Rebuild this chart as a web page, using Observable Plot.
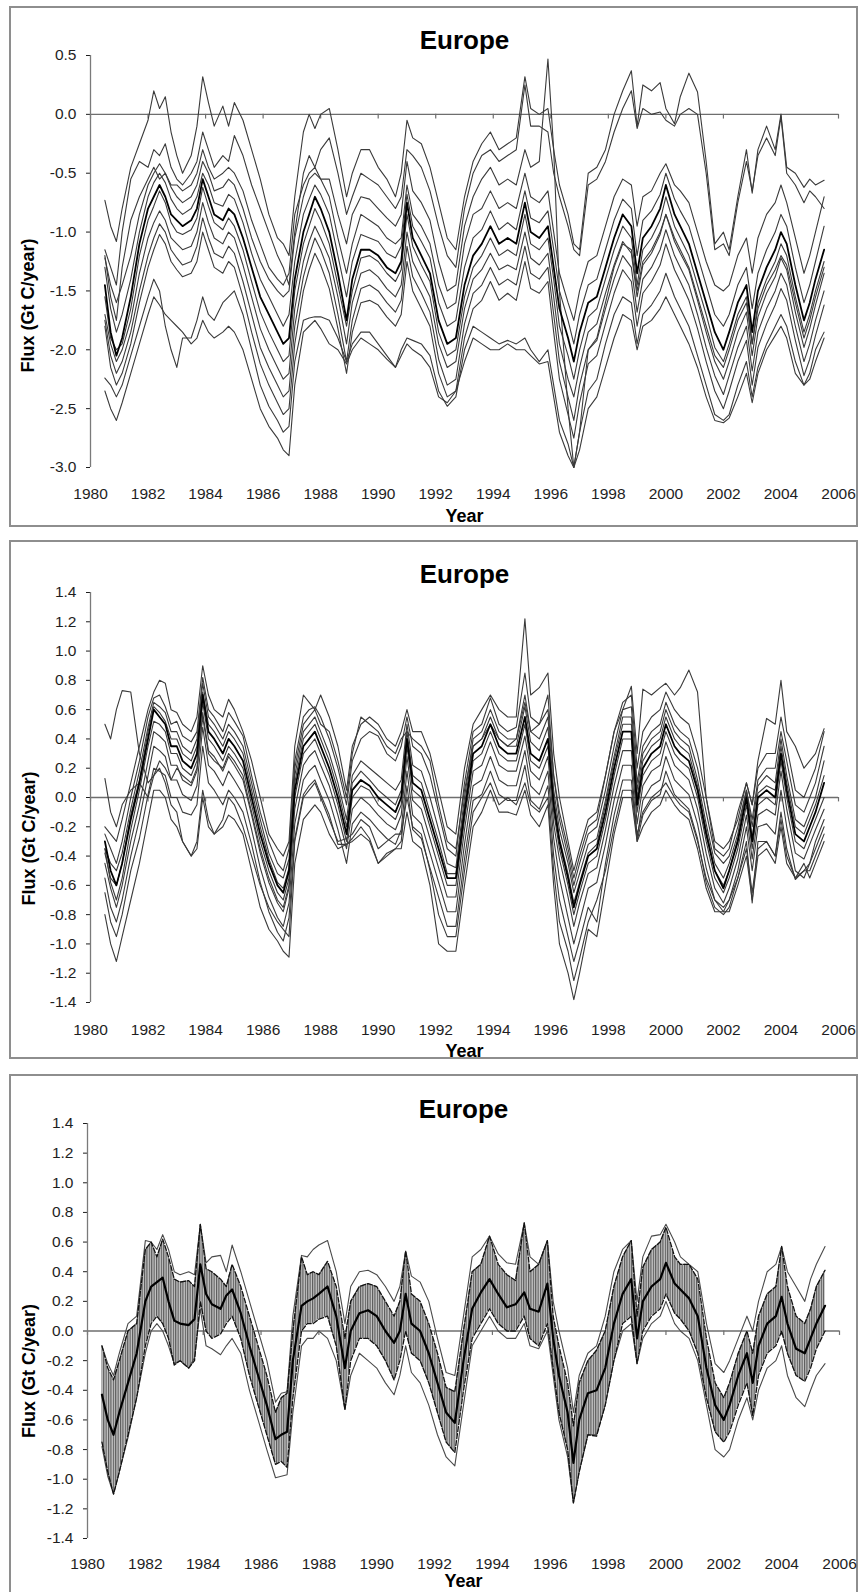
<!DOCTYPE html>
<html><head><meta charset="utf-8">
<script src="https://cdn.jsdelivr.net/npm/d3@7"></script>
<script src="https://cdn.jsdelivr.net/npm/@observablehq/plot@0.6"></script>
<style>
html,body{margin:0;padding:0;background:#fff;overflow:hidden}
#page{position:relative;width:860px;height:1592px;overflow:hidden;background:#fff;font-family:"Liberation Sans",Arial,sans-serif}
.box{position:absolute;border:2px solid #8e8e8e;box-sizing:border-box}
.chart{position:absolute;left:0}
</style></head><body><div id="page">
<div class="box" style="left:9px;top:6px;width:849px;height:521px"></div>
<div class="box" style="left:9px;top:540px;width:849px;height:519px"></div>
<div class="box" style="left:9px;top:1074px;width:849px;height:560px"></div>
<div class="chart" id="c1" style="top:0px"></div>
<div class="chart" id="c2" style="top:530px"></div>
<div class="chart" id="c3" style="top:1062px"></div>
</div>
<script>
// ---------- shared axes / labels ----------
const months = [1980.5,1980.7,1980.9,1981.1,1981.4,1981.7,1982.0,1982.2,1982.4,1982.6,1982.8,1983.0,1983.2,1983.5,1983.7,1983.9,1984.1,1984.3,1984.6,1984.8,1985.0,1985.3,1985.6,1985.9,1986.2,1986.5,1986.7,1986.9,1987.1,1987.4,1987.6,1987.8,1988.0,1988.3,1988.6,1988.9,1989.1,1989.4,1989.7,1990.0,1990.3,1990.6,1990.8,1991.0,1991.2,1991.5,1991.8,1992.1,1992.4,1992.7,1993.0,1993.3,1993.6,1993.9,1994.2,1994.5,1994.8,1995.1,1995.3,1995.6,1995.9,1996.1,1996.3,1996.6,1996.8,1997.0,1997.3,1997.6,1997.9,1998.2,1998.5,1998.8,1999.0,1999.2,1999.5,1999.8,2000.0,2000.3,2000.5,2000.8,2001.1,2001.4,2001.7,2002.0,2002.2,2002.5,2002.8,2003.0,2003.2,2003.5,2003.8,2004.0,2004.2,2004.5,2004.8,2005.0,2005.2,2005.5];
const xTicks = [1980,1982,1984,1986,1988,1990,1992,1994,1996,1998,2000,2002,2004,2006];
const yTicks1 = [-3.0,-2.5,-2.0,-1.5,-1.0,-0.5,0.0,0.5];
const yTicks23 = [-1.4,-1.2,-1.0,-0.8,-0.6,-0.4,-0.2,0.0,0.2,0.4,0.6,0.8,1.0,1.2,1.4];
const titleText = "Europe";
const xLabel = "Year";
const yLabel = "Flux (Gt C/year)";

// ---------- panel 1 series ----------
const p1Top1 = [-0.73,-0.95,-1.08,-0.8,-0.45,-0.25,-0.05,0.2,0.05,0.15,
 -0.15,-0.35,-0.5,-0.35,-0.1,0.32,0.1,-0.1,0.07,-0.1,
 0.1,-0.05,-0.3,-0.55,-0.85,-1.05,-1.1,-1.2,-0.7,-0.15,
 0.0,-0.12,0.0,0.05,-0.3,-0.7,-0.5,-0.3,-0.3,-0.45,
 -0.55,-0.7,-0.5,-0.05,-0.2,-0.25,-0.45,-0.75,-1.05,-1.15,
 -0.7,-0.4,-0.25,-0.15,-0.3,-0.25,-0.2,0.32,0.05,0.0,
 0.05,-0.3,-0.6,-0.85,-1.1,-1.15,-0.5,-0.45,-0.3,0.0,
 0.2,0.37,-0.1,0.25,0.2,0.27,0.05,-0.08,0.15,0.35,
 0.19,-0.4,-1.1,-1.0,-1.15,-0.7,-0.3,-0.67,-0.3,-0.1,
 -0.3,0.0,-0.45,-0.5,-0.62,-0.55,-0.6,-0.56];
const p1Top2 = [-1.15,-1.3,-1.45,-1.0,-0.55,-0.4,-0.45,-0.3,-0.35,-0.25,
 -0.45,-0.55,-0.6,-0.5,-0.4,-0.15,-0.3,-0.45,-0.35,-0.4,
 -0.18,-0.35,-0.6,-0.8,-1.0,-1.2,-1.3,-1.45,-1.0,-0.5,
 -0.35,-0.45,-0.3,-0.2,-0.5,-0.85,-0.7,-0.5,-0.55,-0.6,
 -0.7,-0.8,-0.7,-0.3,-0.35,-0.45,-0.65,-0.95,-1.2,-1.3,
 -0.8,-0.5,-0.35,-0.3,-0.4,-0.35,-0.3,0.25,-0.1,-0.1,
 -0.15,-0.5,-0.7,-0.95,-1.15,-1.2,-0.6,-0.55,-0.4,-0.15,
 0.05,0.2,-0.12,0.05,0.0,0.02,-0.05,-0.1,0.0,0.05,
 0.0,-0.5,-1.15,-1.1,-1.2,-0.75,-0.4,-0.65,-0.35,-0.2,
 -0.35,-0.02,-0.5,-0.6,-0.75,-0.65,-0.7,-0.8];
const p1Spike = [-1.2,-1.55,-1.75,-1.3,-0.9,-0.7,-0.55,-0.45,-0.55,-0.5,
 -0.6,-0.6,-0.65,-0.6,-0.5,-0.3,-0.45,-0.55,-0.5,-0.45,
 -0.5,-0.65,-0.9,-1.1,-1.3,-1.4,-1.45,-1.35,-0.85,-0.6,
 -0.5,-0.45,-0.55,-0.55,-0.85,-1.1,-0.85,-0.7,-0.72,-0.8,
 -0.88,-0.95,-0.85,-0.4,-0.65,-0.75,-0.9,-1.25,-1.5,-1.45,
 -0.95,-0.7,-0.55,-0.45,-0.6,-0.55,-0.6,-0.3,-0.45,-0.4,
 0.47,-0.3,-1.5,-2.5,-3.0,-2.7,-2.0,-1.9,-1.6,-1.3,
 -1.1,-1.15,-1.5,-1.25,-1.15,-1.0,-0.85,-1.05,-1.15,-1.3,
 -1.55,-1.8,-2.05,-2.15,-2.0,-1.75,-1.6,-1.95,-1.65,-1.45,
 -1.32,-1.2,-1.28,-1.6,-1.9,-1.75,-1.55,-1.3];
const p1Center = [-1.45,-1.85,-2.05,-1.9,-1.55,-1.1,-0.8,-0.7,-0.6,-0.7,
 -0.85,-0.9,-0.95,-0.9,-0.8,-0.55,-0.7,-0.85,-0.9,-0.8,
 -0.85,-1.05,-1.3,-1.55,-1.7,-1.85,-1.95,-1.9,-1.4,-1.0,
 -0.85,-0.7,-0.8,-1.0,-1.35,-1.75,-1.4,-1.15,-1.15,-1.2,
 -1.3,-1.35,-1.25,-0.75,-1.05,-1.2,-1.35,-1.75,-1.95,-1.9,
 -1.45,-1.2,-1.1,-0.95,-1.1,-1.05,-1.1,-0.75,-1.0,-1.05,
 -0.95,-1.3,-1.65,-1.9,-2.1,-1.85,-1.6,-1.55,-1.3,-1.05,
 -0.85,-0.95,-1.35,-1.05,-0.95,-0.8,-0.6,-0.85,-0.95,-1.1,
 -1.35,-1.6,-1.85,-2.0,-1.85,-1.6,-1.45,-1.85,-1.5,-1.3,
 -1.15,-1.0,-1.1,-1.45,-1.75,-1.6,-1.4,-1.15];
const p1B1 = [-1.22,-1.45,-1.6,-1.45,-1.2,-0.85,-0.6,-0.5,-0.42,-0.5,
 -0.62,-0.7,-0.75,-0.7,-0.6,-0.4,-0.5,-0.65,-0.62,-0.55,
 -0.6,-0.8,-1.05,-1.25,-1.4,-1.5,-1.55,-1.5,-1.05,-0.7,
 -0.55,-0.5,-0.55,-0.7,-1.05,-1.35,-1.1,-0.85,-0.9,-0.95,
 -1.05,-1.1,-1.05,-0.6,-0.85,-0.95,-1.1,-1.45,-1.65,-1.6,
 -1.1,-0.85,-0.8,-0.65,-0.8,-0.75,-0.8,-0.5,-0.7,-0.75,
 -0.65,-1.0,-1.35,-1.6,-1.75,-1.5,-1.25,-1.2,-0.95,-0.7,
 -0.55,-0.6,-0.95,-0.7,-0.65,-0.5,-0.42,-0.6,-0.65,-0.75,
 -1.0,-1.25,-1.45,-1.5,-1.45,-1.2,-1.05,-1.35,-1.05,-0.85,
 -0.75,-0.6,-0.75,-1.05,-1.35,-1.2,-1.0,-0.7];
const p1B2 = [-1.3,-1.65,-1.85,-1.7,-1.4,-1.0,-0.7,-0.58,-0.5,-0.58,
 -0.72,-0.8,-0.85,-0.8,-0.7,-0.5,-0.6,-0.75,-0.78,-0.68,
 -0.72,-0.92,-1.18,-1.4,-1.55,-1.7,-1.8,-1.7,-1.25,-0.85,
 -0.72,-0.6,-0.68,-0.85,-1.2,-1.55,-1.25,-1.02,-1.05,-1.08,
 -1.18,-1.22,-1.12,-0.68,-0.95,-1.08,-1.22,-1.6,-1.8,-1.75,
 -1.3,-1.05,-0.98,-0.82,-0.98,-0.92,-0.98,-0.65,-0.88,-0.92,
 -0.82,-1.15,-1.5,-1.75,-1.95,-1.7,-1.45,-1.4,-1.15,-0.9,
 -0.72,-0.8,-1.2,-0.9,-0.82,-0.68,-0.5,-0.72,-0.82,-0.95,
 -1.2,-1.45,-1.7,-1.8,-1.7,-1.45,-1.3,-1.65,-1.35,-1.15,
 -1.0,-0.85,-0.95,-1.3,-1.6,-1.45,-1.25,-0.95];
const p1B4 = [-1.55,-1.9,-2.0,-1.95,-1.65,-1.2,-0.9,-0.78,-0.65,-0.75,
 -0.92,-1.0,-1.02,-0.98,-0.88,-0.62,-0.78,-0.92,-0.98,-0.88,
 -0.95,-1.15,-1.42,-1.68,-1.85,-2.0,-2.1,-2.05,-1.5,-1.1,
 -0.95,-0.8,-0.9,-1.1,-1.45,-1.8,-1.5,-1.22,-1.2,-1.25,
 -1.35,-1.42,-1.32,-0.85,-1.12,-1.28,-1.42,-1.85,-2.05,-2.0,
 -1.55,-1.3,-1.2,-1.05,-1.2,-1.15,-1.2,-0.85,-1.1,-1.15,
 -1.05,-1.4,-1.8,-2.05,-2.25,-2.0,-1.72,-1.65,-1.4,-1.15,
 -0.95,-1.05,-1.45,-1.15,-1.05,-0.9,-0.7,-0.95,-1.05,-1.2,
 -1.45,-1.7,-1.98,-2.1,-1.95,-1.7,-1.55,-1.95,-1.6,-1.4,
 -1.25,-1.1,-1.2,-1.55,-1.85,-1.7,-1.5,-1.25];
const p1B5 = [-1.7,-1.95,-2.1,-2.0,-1.75,-1.35,-1.05,-0.92,-0.82,-0.9,
 -1.05,-1.1,-1.15,-1.12,-1.0,-0.75,-0.92,-1.05,-1.1,-1.0,
 -1.05,-1.28,-1.55,-1.82,-2.0,-2.15,-2.25,-2.2,-1.65,-1.25,
 -1.08,-0.95,-1.05,-1.22,-1.55,-1.95,-1.6,-1.35,-1.32,-1.38,
 -1.48,-1.55,-1.45,-1.0,-1.25,-1.4,-1.55,-1.95,-2.15,-2.1,
 -1.65,-1.4,-1.32,-1.18,-1.32,-1.28,-1.32,-1.0,-1.22,-1.28,
 -1.18,-1.55,-1.95,-2.25,-2.4,-2.15,-1.85,-1.78,-1.52,-1.28,
 -1.08,-1.18,-1.55,-1.28,-1.18,-1.02,-0.85,-1.08,-1.18,-1.32,
 -1.58,-1.85,-2.1,-2.25,-2.1,-1.85,-1.68,-2.05,-1.72,-1.52,
 -1.38,-1.22,-1.32,-1.68,-1.98,-1.82,-1.62,-1.35];
const p1B6 = [-1.75,-2.05,-2.2,-2.1,-1.85,-1.5,-1.2,-1.05,-0.93,-1.0,
 -1.15,-1.22,-1.28,-1.25,-1.12,-0.88,-1.05,-1.18,-1.22,-1.12,
 -1.18,-1.42,-1.7,-1.98,-2.15,-2.3,-2.4,-2.35,-1.8,-1.38,
 -1.2,-1.05,-1.15,-1.35,-1.7,-2.1,-1.75,-1.48,-1.45,-1.5,
 -1.6,-1.68,-1.58,-1.12,-1.38,-1.52,-1.68,-2.08,-2.3,-2.25,
 -1.78,-1.52,-1.45,-1.3,-1.45,-1.4,-1.45,-1.12,-1.35,-1.4,
 -1.3,-1.7,-2.1,-2.4,-2.6,-2.3,-2.0,-1.92,-1.65,-1.4,
 -1.2,-1.3,-1.68,-1.4,-1.3,-1.15,-0.98,-1.2,-1.3,-1.45,
 -1.7,-1.98,-2.22,-2.38,-2.22,-1.98,-1.8,-2.18,-1.85,-1.65,
 -1.5,-1.35,-1.45,-1.8,-2.1,-1.95,-1.75,-1.5];
const p1B7 = [-1.8,-2.15,-2.3,-2.2,-1.95,-1.6,-1.3,-1.15,-1.02,-1.1,
 -1.25,-1.32,-1.38,-1.35,-1.25,-1.0,-1.15,-1.3,-1.35,-1.25,
 -1.3,-1.55,-1.85,-2.12,-2.3,-2.45,-2.55,-2.5,-1.95,-1.5,
 -1.32,-1.18,-1.28,-1.48,-1.82,-2.2,-1.85,-1.6,-1.58,-1.62,
 -1.72,-1.8,-1.7,-1.25,-1.5,-1.65,-1.8,-2.2,-2.4,-2.35,
 -1.9,-1.65,-1.58,-1.42,-1.58,-1.52,-1.58,-1.25,-1.48,-1.52,
 -1.42,-1.85,-2.25,-2.55,-2.75,-2.45,-2.12,-2.05,-1.78,-1.52,
 -1.32,-1.42,-1.8,-1.52,-1.42,-1.28,-1.1,-1.32,-1.42,-1.58,
 -1.82,-2.1,-2.35,-2.5,-2.35,-2.1,-1.92,-2.3,-1.98,-1.78,
 -1.62,-1.48,-1.58,-1.92,-2.22,-2.08,-1.88,-1.62];
const p1B8 = [-2.24,-2.3,-2.4,-2.3,-2.05,-1.8,-1.55,-1.4,-1.5,-1.8,
 -2.0,-2.15,-1.9,-1.9,-1.75,-1.55,-1.7,-1.75,-1.6,-1.55,
 -1.5,-1.7,-2.0,-2.3,-2.48,-2.6,-2.7,-2.65,-2.1,-1.75,
 -1.73,-1.72,-1.72,-1.75,-1.9,-2.1,-1.95,-1.85,-1.85,-1.95,
 -2.05,-2.15,-2.0,-1.9,-1.92,-1.95,-2.05,-2.35,-2.48,-2.4,
 -2.0,-1.8,-1.85,-1.9,-1.95,-1.92,-1.95,-1.9,-2.0,-2.1,
 -2.0,-2.3,-2.6,-2.8,-3.0,-2.7,-2.35,-2.25,-1.95,-1.7,
 -1.55,-1.6,-1.95,-1.7,-1.62,-1.5,-1.35,-1.55,-1.65,-1.8,
 -2.05,-2.3,-2.55,-2.6,-2.55,-2.3,-2.1,-2.4,-2.15,-1.95,
 -1.8,-1.7,-1.8,-2.1,-2.3,-2.2,-2.0,-1.85];
const p1B9 = [-2.35,-2.5,-2.6,-2.45,-2.2,-1.95,-1.7,-1.55,-1.62,-1.7,
 -1.75,-1.8,-1.85,-1.95,-1.9,-1.75,-1.85,-1.9,-1.85,-1.8,
 -1.85,-2.0,-2.25,-2.5,-2.65,-2.75,-2.85,-2.9,-2.3,-1.85,
 -1.8,-1.75,-1.82,-1.95,-2.0,-2.12,-2.0,-1.9,-1.95,-2.0,
 -2.08,-2.15,-2.05,-1.95,-2.0,-2.05,-2.15,-2.4,-2.45,-2.35,
 -2.1,-1.9,-1.95,-2.0,-2.0,-1.95,-2.0,-2.0,-2.05,-2.12,
 -2.1,-2.4,-2.7,-2.9,-3.0,-2.85,-2.5,-2.4,-2.15,-1.9,
 -1.7,-1.75,-2.0,-1.8,-1.75,-1.65,-1.55,-1.7,-1.8,-1.95,
 -2.15,-2.4,-2.6,-2.62,-2.58,-2.4,-2.2,-2.45,-2.2,-2.0,
 -1.88,-1.8,-1.9,-2.2,-2.3,-2.25,-2.1,-1.9];

// ---------- panel 2 series ----------
const p2D1 = [-0.2,-0.25,-0.3,-0.15,0.1,0.35,0.6,0.72,0.8,0.78,
 0.6,0.58,0.5,0.45,0.55,0.9,0.7,0.6,0.55,0.67,
 0.6,0.45,0.25,0.0,-0.25,-0.35,-0.4,-0.3,0.35,0.7,
 0.65,0.6,0.7,0.55,0.35,0.05,0.35,0.5,0.55,0.5,
 0.4,0.35,0.45,0.6,0.45,0.45,0.3,0.05,-0.2,-0.25,
 0.2,0.5,0.6,0.7,0.6,0.55,0.55,1.22,0.7,0.75,
 0.85,0.3,0.0,-0.3,-0.5,-0.35,-0.15,-0.1,0.15,0.45,
 0.65,0.7,0.2,0.45,0.55,0.6,0.72,0.6,0.55,0.5,
 0.3,0.0,-0.3,-0.35,-0.3,-0.15,0.1,-0.05,0.2,0.3,
 0.3,0.55,0.35,0.05,0.0,0.1,0.2,0.45];
const p2D2 = [-0.25,-0.35,-0.45,-0.3,0.0,0.25,0.55,0.68,0.7,0.62,
 0.5,0.52,0.42,0.38,0.45,0.82,0.6,0.55,0.45,0.58,
 0.52,0.42,0.15,-0.1,-0.3,-0.45,-0.5,-0.35,0.25,0.55,
 0.6,0.62,0.55,0.4,0.2,-0.05,0.25,0.4,0.45,0.42,
 0.3,0.25,0.35,0.55,0.35,0.3,0.15,-0.1,-0.35,-0.4,
 0.1,0.45,0.5,0.68,0.5,0.45,0.48,0.85,0.55,0.5,
 0.7,0.15,-0.15,-0.4,-0.6,-0.45,-0.25,-0.2,0.05,0.35,
 0.6,0.62,0.1,0.35,0.45,0.5,0.65,0.5,0.45,0.4,
 0.2,-0.1,-0.38,-0.45,-0.4,-0.2,0.05,-0.15,0.12,0.2,
 0.2,0.45,0.25,-0.05,-0.1,0.0,0.1,0.35];
const p2D3 = [-0.35,-0.45,-0.5,-0.38,-0.08,0.18,0.48,0.65,0.62,0.58,
 0.45,0.45,0.35,0.3,0.4,0.78,0.55,0.5,0.4,0.5,
 0.45,0.35,0.1,-0.15,-0.38,-0.52,-0.55,-0.42,0.15,0.45,
 0.5,0.55,0.45,0.3,0.1,-0.15,0.15,0.25,0.2,0.15,
 0.1,0.05,0.12,0.5,0.22,0.18,0.0,-0.22,-0.45,-0.48,
 0.0,0.4,0.45,0.6,0.45,0.4,0.4,0.7,0.45,0.4,
 0.55,0.05,-0.22,-0.45,-0.65,-0.52,-0.32,-0.28,-0.02,0.28,
 0.55,0.55,0.05,0.3,0.4,0.45,0.6,0.45,0.4,0.35,
 0.12,-0.18,-0.45,-0.55,-0.45,-0.25,0.05,-0.2,0.08,0.15,
 0.1,0.4,0.15,-0.15,-0.2,-0.1,0.0,0.25];
const p2D4 = [-0.38,-0.55,-0.6,-0.45,-0.12,0.12,0.45,0.62,0.58,0.52,
 0.4,0.4,0.3,0.25,0.35,0.72,0.5,0.45,0.35,0.45,
 0.4,0.3,0.05,-0.2,-0.42,-0.58,-0.62,-0.48,0.1,0.4,
 0.45,0.5,0.4,0.25,0.05,-0.2,0.1,0.18,0.12,0.05,
 0.0,-0.05,0.05,0.45,0.15,0.1,-0.1,-0.3,-0.52,-0.52,
 -0.05,0.35,0.4,0.55,0.4,0.35,0.35,0.62,0.38,0.32,
 0.48,0.0,-0.28,-0.52,-0.72,-0.58,-0.38,-0.32,-0.05,0.25,
 0.5,0.5,0.0,0.25,0.35,0.4,0.55,0.4,0.35,0.3,
 0.08,-0.22,-0.5,-0.6,-0.5,-0.28,0.02,-0.28,0.03,0.08,
 0.05,0.35,0.1,-0.2,-0.25,-0.15,-0.05,0.15];
const p2Center = [-0.3,-0.5,-0.6,-0.45,-0.15,0.1,0.4,0.6,0.55,0.5,
 0.35,0.35,0.25,0.2,0.3,0.7,0.45,0.4,0.3,0.4,
 0.35,0.25,0.0,-0.25,-0.45,-0.6,-0.65,-0.5,0.05,0.35,
 0.4,0.45,0.35,0.2,0.0,-0.25,0.05,0.12,0.08,0.0,
 -0.05,-0.1,0.0,0.4,0.1,0.05,-0.15,-0.35,-0.55,-0.55,
 -0.1,0.3,0.35,0.5,0.35,0.3,0.3,0.55,0.3,0.25,
 0.4,-0.05,-0.3,-0.55,-0.75,-0.6,-0.4,-0.35,-0.1,0.2,
 0.45,0.45,-0.05,0.2,0.3,0.35,0.5,0.35,0.3,0.25,
 0.05,-0.25,-0.5,-0.62,-0.5,-0.3,0.0,-0.3,0.0,0.05,
 0.0,0.3,0.05,-0.25,-0.3,-0.2,-0.1,0.1];
const p2D6 = [-0.35,-0.58,-0.7,-0.55,-0.22,0.05,0.35,0.52,0.5,0.45,
 0.3,0.3,0.2,0.15,0.25,0.65,0.4,0.35,0.25,0.35,
 0.3,0.2,-0.05,-0.3,-0.5,-0.65,-0.7,-0.55,0.0,0.3,
 0.35,0.4,0.3,0.15,-0.05,-0.3,0.0,0.08,0.05,-0.05,
 -0.1,-0.15,-0.05,0.35,0.05,0.0,-0.2,-0.4,-0.6,-0.6,
 -0.15,0.25,0.3,0.45,0.3,0.25,0.25,0.5,0.25,0.2,
 0.35,-0.1,-0.35,-0.6,-0.8,-0.65,-0.45,-0.4,-0.15,0.15,
 0.4,0.4,-0.1,0.15,0.25,0.3,0.45,0.3,0.25,0.2,
 0.0,-0.3,-0.55,-0.65,-0.55,-0.35,-0.05,-0.35,-0.05,0.0,
 -0.05,0.25,0.0,-0.3,-0.35,-0.25,-0.15,0.0];
const p2D7 = [-0.45,-0.62,-0.75,-0.6,-0.3,-0.05,0.25,0.45,0.42,0.38,
 0.22,0.22,0.12,0.08,0.18,0.58,0.32,0.28,0.18,0.28,
 0.22,0.12,-0.12,-0.38,-0.58,-0.72,-0.78,-0.62,-0.08,0.22,
 0.28,0.32,0.22,0.08,-0.12,-0.35,-0.08,0.0,-0.05,-0.12,
 -0.18,-0.22,-0.12,0.28,-0.02,-0.08,-0.28,-0.48,-0.68,-0.68,
 -0.22,0.18,0.22,0.38,0.22,0.18,0.18,0.42,0.18,0.12,
 0.28,-0.18,-0.42,-0.68,-0.88,-0.72,-0.52,-0.48,-0.22,0.08,
 0.32,0.32,-0.18,0.08,0.18,0.22,0.38,0.22,0.18,0.12,
 -0.08,-0.38,-0.62,-0.72,-0.62,-0.42,-0.12,-0.42,-0.12,-0.08,
 -0.12,0.18,-0.08,-0.38,-0.42,-0.32,-0.22,-0.08];
const p2D8 = [-0.55,-0.75,-0.85,-0.7,-0.4,-0.15,0.15,0.35,0.32,0.28,
 0.12,0.12,0.02,-0.02,0.08,0.48,0.22,0.18,0.08,0.18,
 0.12,0.02,-0.22,-0.48,-0.68,-0.82,-0.88,-0.72,-0.18,0.12,
 0.18,0.22,0.12,-0.02,-0.22,-0.45,-0.18,-0.1,-0.15,-0.22,
 -0.28,-0.32,-0.22,0.18,-0.12,-0.18,-0.38,-0.58,-0.78,-0.78,
 -0.32,0.08,0.12,0.28,0.12,0.08,0.08,0.32,0.08,0.02,
 0.18,-0.28,-0.55,-0.82,-1.0,-0.85,-0.62,-0.58,-0.32,-0.02,
 0.22,0.22,-0.28,-0.02,0.08,0.12,0.28,0.12,0.08,0.02,
 -0.18,-0.48,-0.7,-0.78,-0.7,-0.5,-0.2,-0.5,-0.2,-0.18,
 -0.25,0.05,-0.2,-0.5,-0.55,-0.45,-0.3,-0.15];
const p2D9 = [-0.65,-0.85,-0.95,-0.8,-0.5,-0.28,0.02,0.2,0.18,0.15,
 0.0,0.0,-0.1,-0.12,-0.05,0.35,0.1,0.05,-0.05,0.05,
 0.0,-0.1,-0.32,-0.58,-0.78,-0.92,-0.98,-0.82,-0.28,0.02,
 0.08,0.12,0.02,-0.12,-0.32,-0.32,-0.28,-0.2,-0.28,-0.45,
 -0.38,-0.35,-0.3,0.08,-0.22,-0.28,-0.48,-0.68,-0.88,-0.88,
 -0.42,-0.02,0.02,0.18,0.02,-0.02,-0.02,0.22,-0.02,-0.08,
 0.08,-0.4,-0.7,-0.95,-1.12,-0.98,-0.75,-0.85,-0.45,-0.12,
 0.12,0.12,-0.3,-0.12,-0.02,0.02,0.18,0.02,-0.02,-0.08,
 -0.28,-0.58,-0.75,-0.8,-0.75,-0.55,-0.3,-0.72,-0.3,-0.3,
 -0.4,-0.1,-0.35,-0.56,-0.5,-0.5,-0.4,-0.25];
const p2D10 = [-0.8,-1.0,-1.12,-0.95,-0.7,-0.45,-0.15,0.05,0.05,0.0,
 -0.15,-0.2,-0.3,-0.4,-0.35,0.0,-0.2,-0.25,-0.2,-0.12,
 -0.15,-0.25,-0.5,-0.75,-0.9,-0.98,-1.05,-1.09,-0.45,-0.15,
 -0.1,-0.05,-0.1,-0.25,-0.35,-0.32,-0.3,-0.25,-0.3,-0.45,
 -0.4,-0.35,-0.35,-0.1,-0.3,-0.35,-0.6,-1.0,-1.05,-1.05,
 -0.6,-0.2,-0.1,0.05,-0.1,-0.1,-0.12,0.05,-0.12,-0.2,
 -0.05,-0.6,-1.0,-1.2,-1.38,-1.2,-0.9,-0.95,-0.6,-0.25,
 0.0,0.0,-0.3,-0.2,-0.1,-0.05,0.05,-0.05,-0.1,-0.15,
 -0.35,-0.62,-0.78,-0.78,-0.78,-0.6,-0.4,-0.7,-0.4,-0.35,
 -0.45,-0.2,-0.45,-0.55,-0.45,-0.55,-0.45,-0.3];
const p2Q = [0.5,0.4,0.6,0.73,0.72,0.3,0.1,0.15,0.25,0.2,
 0.12,0.2,0.15,0.1,0.2,0.55,0.3,0.25,0.2,0.3,
 0.25,0.15,-0.1,-0.35,-0.55,-0.7,-0.75,-0.6,0.2,0.5,
 0.55,0.6,0.5,0.45,0.25,0.0,0.3,0.55,0.5,0.45,
 0.35,0.3,0.4,0.45,0.4,0.35,0.25,-0.05,-0.3,-0.35,
 0.05,0.35,0.4,0.5,0.4,0.35,0.4,0.65,0.45,0.5,
 0.6,0.15,-0.1,-0.35,-0.55,-0.4,-0.2,-0.15,0.15,0.45,
 0.6,0.76,0.3,0.74,0.7,0.75,0.78,0.7,0.75,0.87,
 0.72,0.0,-0.35,-0.4,-0.35,-0.1,0.1,-0.05,0.25,0.54,
 0.5,0.8,0.45,0.35,0.2,0.25,0.3,0.47];
const p2Q2 = [0.13,-0.1,-0.2,-0.05,0.05,0.1,0.0,0.15,0.2,0.1,
 -0.05,-0.1,-0.3,-0.4,-0.3,0.05,-0.15,-0.25,-0.15,0.0,
 -0.05,-0.2,-0.4,-0.6,-0.75,-0.85,-0.9,-0.95,-0.3,0.0,
 0.05,0.1,0.0,-0.15,-0.3,-0.28,-0.25,-0.15,-0.2,-0.35,
 -0.3,-0.25,-0.25,0.0,-0.2,-0.25,-0.5,-0.8,-0.95,-0.95,
 -0.5,-0.1,0.0,0.1,-0.05,0.0,-0.05,0.1,-0.05,-0.1,
 0.0,-0.5,-0.85,-1.05,-1.25,-1.1,-0.85,-0.7,-0.5,-0.2,
 0.05,0.05,-0.25,-0.1,0.0,0.05,0.1,0.0,-0.05,-0.1,
 -0.3,-0.55,-0.7,-0.75,-0.7,-0.55,-0.35,-0.65,-0.35,-0.3,
 -0.4,-0.15,-0.4,-0.55,-0.5,-0.45,-0.35,-0.2];

// ---------- panel 3 series ----------
const p3Mean = [-0.43,-0.6,-0.7,-0.55,-0.35,-0.15,0.2,0.3,0.33,0.36,
 0.2,0.07,0.05,0.04,0.08,0.45,0.25,0.18,0.15,0.24,
 0.28,0.12,-0.1,-0.3,-0.5,-0.73,-0.7,-0.68,-0.2,0.17,
 0.2,0.22,0.25,0.3,0.1,-0.25,0.0,0.12,0.14,0.1,
 0.0,-0.08,0.0,0.25,0.05,0.0,-0.15,-0.35,-0.55,-0.62,
 -0.2,0.15,0.26,0.35,0.25,0.16,0.18,0.26,0.15,0.13,
 0.32,-0.05,-0.3,-0.55,-0.89,-0.6,-0.42,-0.4,-0.25,0.05,
 0.25,0.35,-0.05,0.2,0.3,0.35,0.46,0.32,0.28,0.22,
 0.1,-0.25,-0.5,-0.6,-0.5,-0.3,-0.15,-0.35,-0.1,0.05,
 0.1,0.23,0.05,-0.12,-0.15,-0.05,0.05,0.17];
const p3Hi = [-0.1,-0.25,-0.33,-0.2,0.0,0.05,0.55,0.6,0.5,0.62,
 0.5,0.35,0.33,0.34,0.3,0.72,0.42,0.4,0.35,0.3,
 0.45,0.3,0.1,-0.1,-0.3,-0.55,-0.45,-0.42,0.0,0.5,
 0.38,0.4,0.38,0.47,0.3,-0.05,0.2,0.3,0.32,0.3,
 0.2,0.1,0.2,0.54,0.25,0.2,0.05,-0.15,-0.38,-0.41,
 0.0,0.4,0.45,0.64,0.45,0.38,0.34,0.73,0.4,0.45,
 0.61,0.1,-0.1,-0.35,-0.64,-0.35,-0.2,-0.13,0.0,0.3,
 0.5,0.61,0.1,0.43,0.55,0.6,0.7,0.5,0.45,0.45,
 0.35,-0.05,-0.35,-0.45,-0.35,-0.15,0.0,-0.15,0.1,0.25,
 0.3,0.57,0.3,0.1,0.05,0.15,0.3,0.41];
const p3Lo = [-0.75,-0.95,-1.1,-0.95,-0.7,-0.45,-0.1,0.05,0.1,0.05,
 -0.05,-0.23,-0.2,-0.25,-0.2,0.2,0.0,-0.05,-0.02,0.05,
 0.1,-0.05,-0.3,-0.5,-0.7,-0.9,-0.88,-0.92,-0.45,0.0,
 0.05,0.05,0.08,0.1,-0.1,-0.53,-0.2,-0.05,-0.05,-0.1,
 -0.2,-0.33,-0.2,0.0,-0.15,-0.2,-0.35,-0.55,-0.75,-0.82,
 -0.4,-0.05,0.05,0.15,0.05,0.0,0.0,0.1,-0.05,-0.1,
 0.05,-0.25,-0.55,-0.8,-1.16,-0.95,-0.7,-0.71,-0.5,-0.2,
 0.05,0.1,-0.22,0.0,0.1,0.15,0.25,0.12,0.08,0.0,
 -0.15,-0.45,-0.68,-0.75,-0.68,-0.5,-0.35,-0.57,-0.3,-0.15,
 -0.1,0.0,-0.15,-0.3,-0.34,-0.25,-0.12,0.0];
const p3OuterHi = [-0.1,-0.22,-0.3,-0.15,0.05,0.1,0.61,0.6,0.55,0.65,
 0.55,0.4,0.38,0.4,0.38,0.72,0.46,0.5,0.51,0.4,
 0.58,0.4,0.2,0.0,-0.2,-0.48,-0.42,-0.41,0.1,0.51,
 0.5,0.55,0.58,0.61,0.4,0.05,0.3,0.4,0.41,0.38,
 0.3,0.2,0.3,0.54,0.37,0.33,0.2,-0.05,-0.28,-0.3,
 0.1,0.5,0.55,0.64,0.52,0.46,0.45,0.73,0.5,0.45,
 0.61,0.2,0.0,-0.25,-0.55,-0.3,-0.15,-0.1,0.1,0.4,
 0.55,0.61,0.2,0.5,0.64,0.65,0.72,0.6,0.5,0.45,
 0.4,0.05,-0.22,-0.28,-0.2,-0.05,0.1,0.0,0.2,0.4,
 0.45,0.57,0.4,0.3,0.2,0.35,0.45,0.57];
const p3OuterLo = [-0.78,-0.98,-1.1,-0.95,-0.72,-0.45,-0.15,0.0,0.05,0.0,
 -0.1,-0.22,-0.2,-0.25,-0.18,0.15,-0.1,-0.12,-0.16,-0.1,
 -0.05,-0.15,-0.4,-0.6,-0.8,-0.99,-0.98,-0.97,-0.55,-0.1,
 -0.05,-0.05,0.0,-0.05,-0.2,-0.53,-0.3,-0.15,-0.2,-0.25,
 -0.35,-0.43,-0.3,-0.1,-0.28,-0.35,-0.5,-0.7,-0.85,-0.91,
 -0.5,-0.1,0.0,0.1,0.0,-0.05,-0.05,0.05,-0.1,-0.12,
 0.0,-0.3,-0.6,-0.85,-1.16,-0.95,-0.7,-0.7,-0.5,-0.2,
 0.0,0.05,-0.22,-0.05,0.05,0.1,0.2,0.05,0.0,-0.05,
 -0.2,-0.5,-0.8,-0.85,-0.8,-0.6,-0.45,-0.6,-0.4,-0.25,
 -0.2,-0.1,-0.3,-0.45,-0.51,-0.4,-0.3,-0.22];

// ---------- build tables ----------
function longRows(list) {
  return list.flatMap(([name, vals]) => vals.map((v, i) => ({name, t: months[i], v})));
}
const rows1 = longRows([["top1", p1Top1], ["top2", p1Top2], ["spike", p1Spike], ["b1", p1B1], ["b2", p1B2],
  ["b4", p1B4], ["b5", p1B5], ["b6", p1B6], ["b7", p1B7], ["b8", p1B8], ["b9", p1B9]]);
const rows1c = longRows([["center", p1Center]]);
const rows2 = longRows([["d1", p2D1], ["d2", p2D2], ["d3", p2D3], ["d4", p2D4], ["d6", p2D6], ["d7", p2D7],
  ["d8", p2D8], ["d9", p2D9], ["d10", p2D10], ["q", p2Q], ["q2", p2Q2]]);
const rows2c = longRows([["center", p2Center]]);
const rows3 = months.map((t, i) => ({t, m: p3Mean[i], hi: p3Hi[i], lo: p3Lo[i], ohi: p3OuterHi[i], olo: p3OuterLo[i]}));

const FONT = '"Liberation Sans", Arial, Helvetica, sans-serif';

function decor(o) {
  return [
    Plot.ruleY([0], {stroke: "#6e6e6e", strokeWidth: 1.3}),
    Plot.ruleX(xTicks, {x: d => d, y1: 0, y2: -o.tickLen, stroke: "#6e6e6e", strokeWidth: 1.2}),
    Plot.ruleX([1980], {stroke: "#7a7a7a", strokeWidth: 1.3}),
    Plot.text([titleText], {text: d => d, frameAnchor: "top", textAnchor: "middle", lineAnchor: "bottom", dy: o.titleDy,
      fontSize: 26, fontWeight: "bold", fill: "#000"}),
    Plot.text([xLabel], {text: d => d, frameAnchor: "bottom", textAnchor: "middle", lineAnchor: "bottom", dy: o.yearDy,
      fontSize: 18, fontWeight: "bold", fill: "#000"}),
    Plot.text([yLabel], {text: d => d, frameAnchor: "left", textAnchor: "middle", lineAnchor: "middle", rotate: -90,
      dx: o.labDx, dy: o.labDy, fontSize: 18, fontWeight: "bold", fill: "#000"})
  ];
}

function base(o, marks) {
  return Plot.plot({
    width: 860, height: 530,
    marginTop: o.mt, marginBottom: o.mb, marginLeft: o.ml, marginRight: o.mr,
    style: {fontFamily: FONT, fontSize: "15.5px", color: "#1e1e1e", background: "transparent", overflow: "visible"},
    x: {domain: [1980, 2006], ticks: xTicks, tickFormat: d => String(d), tickSize: 0, tickPadding: o.xPad, label: null},
    y: {domain: o.yDomain, ticks: o.yTicks, tickFormat: d => d.toFixed(1), tickSize: 4, tickPadding: 10, label: null},
    marks
  });
}

// Panel 1
const o1 = {mt: 55, mb: 63, ml: 90, mr: 22, xPad: 20, yDomain: [-3, 0.5], yTicks: yTicks1,
  tickLen: 0.04, titleDy: -7, yearDy: 54, labDx: -62, labDy: 44};
document.getElementById("c1").append(base(o1, [
  ...decor(o1),
  Plot.line(rows1, {x: "t", y: "v", z: "name", stroke: "#3a3a3a", strokeWidth: 1.1}),
  Plot.line(rows1c, {x: "t", y: "v", z: "name", stroke: "#000", strokeWidth: 1.8})
]));

// Panel 2
const o2 = {mt: 62, mb: 58, ml: 90, mr: 22, xPad: 21, yDomain: [-1.4, 1.4], yTicks: yTicks23,
  tickLen: 0.03, titleDy: -10, yearDy: 54, labDx: -61, labDy: 41};
document.getElementById("c2").append(base(o2, [
  ...decor(o2),
  Plot.line(rows2, {x: "t", y: "v", z: "name", stroke: "#3a3a3a", strokeWidth: 1.1}),
  Plot.line(rows2c, {x: "t", y: "v", z: "name", stroke: "#000", strokeWidth: 1.8})
]));

// Panel 3
const o3 = {mt: 61, mb: 54, ml: 87, mr: 21, xPad: 19, yDomain: [-1.4, 1.4], yTicks: yTicks23,
  tickLen: 0.03, titleDy: -6, yearDy: 48, labDx: -58, labDy: 40};
const svg3 = base(o3, [
  ...decor(o3),
  Plot.areaY(rows3, {x: "t", y1: "lo", y2: "hi", fill: "url(#hatch3)"}),
  Plot.line(rows3, {x: "t", y: "ohi", stroke: "#4a4a4a", strokeWidth: 1.1}),
  Plot.line(rows3, {x: "t", y: "olo", stroke: "#4a4a4a", strokeWidth: 1.1}),
  Plot.line(rows3, {x: "t", y: "hi", stroke: "#111", strokeWidth: 1.3, strokeDasharray: "5,2"}),
  Plot.line(rows3, {x: "t", y: "lo", stroke: "#111", strokeWidth: 1.3, strokeDasharray: "5,2"}),
  Plot.line(rows3, {x: "t", y: "m", stroke: "#000", strokeWidth: 2.2})
]);
const defs = document.createElementNS("http://www.w3.org/2000/svg", "defs");
defs.innerHTML = '<pattern id="hatch3" patternUnits="userSpaceOnUse" width="2.4" height="8">' +
  '<rect width="2.4" height="8" fill="#c6c6c6"/>' +
  '<line x1="0.6" y1="0" x2="0.6" y2="8" stroke="#3c3c3c" stroke-width="0.9"/></pattern>';
svg3.insertBefore(defs, svg3.firstChild);
document.getElementById("c3").append(svg3);
</script>
</body></html>
